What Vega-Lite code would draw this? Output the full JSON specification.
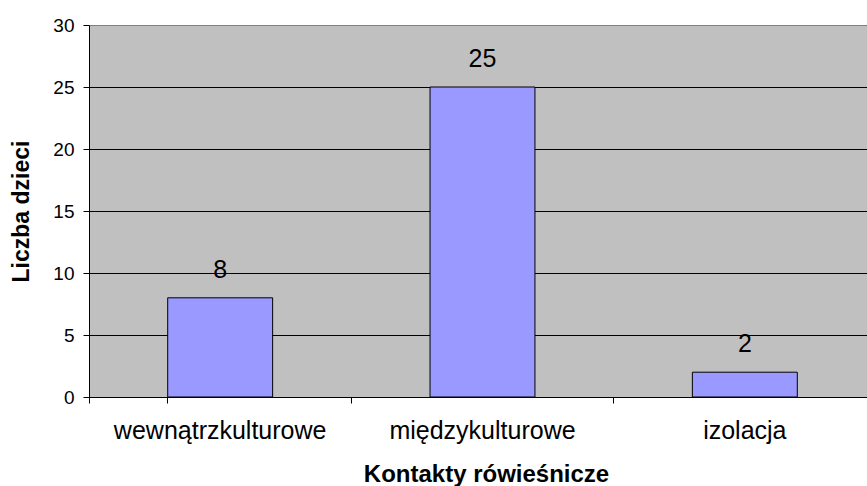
{
  "$schema": "https://vega.github.io/schema/vega-lite/v6.json",
  "autosize": "none",
  "width": 778,
  "height": 372,
  "padding": {"left": 89, "top": 25, "right": 0, "bottom": 89},
  "background": "white",
  "config": {
    "view": {"fill": "#C0C0C0", "stroke": null},
    "font": "Liberation Sans"
  },
  "data": {"values": [
    {"kontakt": "wewnątrzkulturowe", "liczba": 8},
    {"kontakt": "międzykulturowe", "liczba": 25},
    {"kontakt": "izolacja", "liczba": 2}
  ]},
  "encoding": {
    "x": {
      "field": "kontakt", "type": "nominal", "sort": null,
      "scale": {"range": [0, 787], "paddingInner": 0.6, "paddingOuter": 0.3},
      "axis": {
        "title": "Kontakty rówieśnicze",
        "titleFont": "Liberation Sans", "titleFontSize": 24, "titleFontWeight": "bold", "titleColor": "black",
        "titlePadding": 19, "titleX": 397,
        "labelAngle": 0, "labelFontSize": 25, "labelColor": "black", "labelPadding": 15, "labelLimit": 400,
        "ticks": true, "bandPosition": -0.75, "tickExtra": true, "tickColor": "black", "tickSize": 6, "tickWidth": 1,
        "domainColor": "black", "grid": false
      }
    },
    "y": {
      "field": "liczba", "type": "quantitative",
      "scale": {"domain": [0, 30], "nice": false},
      "axis": {
        "title": "Liczba dzieci",
        "titleFont": "Liberation Sans", "titleFontSize": 23, "titleFontWeight": "bold", "titleColor": "black",
        "titlePadding": 19,
        "values": [0, 5, 10, 15, 20, 25, 30],
        "labelFontSize": 19, "labelColor": "black", "labelPadding": 9,
        "tickColor": "black", "tickSize": 6,
        "domainColor": "black",
        "grid": true,
        "gridColor": {"condition": {"test": "datum.value === 30", "value": "#808080"}, "value": "black"},
        "gridOpacity": 1
      }
    }
  },
  "layer": [
    {"mark": {"type": "bar", "fill": "#9999FF", "stroke": "black", "strokeWidth": 1}},
    {"mark": {"type": "text", "fontSize": 25, "dy": -20, "baseline": "alphabetic", "color": "black"},
     "encoding": {"text": {"field": "liczba", "type": "quantitative"}}}
  ]
}
